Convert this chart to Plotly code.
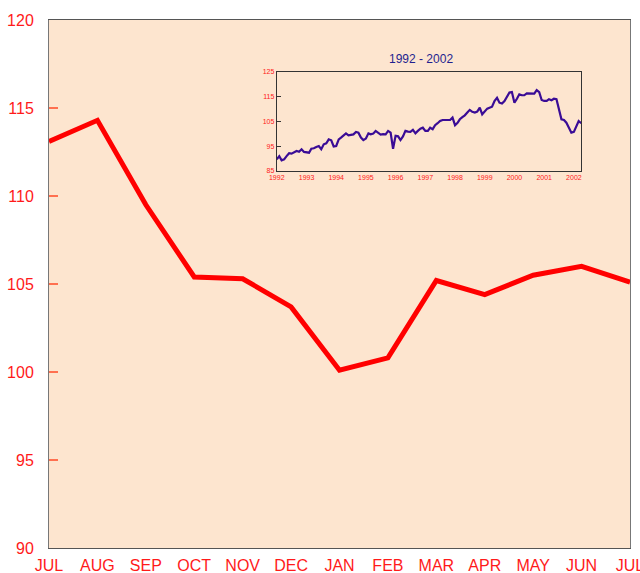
import plotly.graph_objects as go
import pandas as pd

months = ["JUL", "AUG", "SEP", "OCT", "NOV", "DEC", "JAN", "FEB", "MAR", "APR", "MAY", "JUN", "JUL"]
values = [113.1, 114.3, 109.5, 105.4, 105.3, 103.7, 100.1, 100.8, 105.2, 104.4, 105.5, 106.0, 105.1]

inset_values = [
    89.7, 91.0, 89.3, 89.7, 91.0, 92.2, 92.0, 92.7, 93.1, 92.8, 93.8, 92.7,
    92.7, 92.4, 94.0, 94.2, 94.7, 95.1, 93.8, 95.8, 96.2, 97.8, 97.4, 94.9,
    95.1, 97.8, 98.5, 99.2, 100.2, 99.4, 99.6, 99.8, 100.8, 100.5, 98.5, 97.5,
    98.1, 100.2, 99.8, 100.1, 101.2, 100.5, 99.7, 99.9, 99.8, 101.2, 100.5, 94.0,
    99.2, 99.0, 97.5, 99.0, 101.2, 100.9, 100.8, 101.6, 100.2, 101.2, 102.1, 102.5,
    101.2, 101.2, 102.5, 101.9, 103.5, 104.3, 105.2, 105.6, 105.6, 105.9, 105.6, 106.6,
    103.5, 104.5, 105.9, 106.8, 107.5, 108.6, 109.7, 108.9, 108.6, 109.0, 110.6, 107.9,
    108.9, 110.2, 110.6, 111.0, 113.3, 114.6, 112.6, 112.3, 113.3, 115.0, 116.7, 116.9,
    112.6, 114.2, 116.0, 115.6, 115.6, 116.4, 116.3, 116.3, 116.3, 117.7, 116.9, 113.7,
    113.3, 113.3, 114.0, 113.6, 114.2, 114.0, 109.3, 105.9, 105.6, 104.5, 102.5, 100.5,
    100.8, 103.2, 105.2, 104.3,
]
inset_dates = pd.date_range("1992-01-01", periods=len(inset_values), freq="MS")
inset_years = [str(y) for y in range(1992, 2003)]
inset_yticks = [85, 95, 105, 115, 125]
main_yticks = [90, 95, 100, 105, 110, 115, 120]

PEACH = "#fde5cf"
RED = "#ff1a1a"
FONT = "Liberation Sans, Arial, sans-serif"

fig = go.Figure()
fig.add_trace(go.Scatter(
    x=list(range(len(months))), y=values, mode="lines",
    line=dict(color="#ff0000", width=5), xaxis="x", yaxis="y", showlegend=False,
    cliponaxis=False,
))
fig.add_trace(go.Scatter(
    x=inset_dates, y=inset_values, mode="lines",
    line=dict(color="#3a0c96", width=2.2), xaxis="x2", yaxis="y2", showlegend=False,
))

fig.update_layout(
    width=640, height=573,
    margin=dict(l=49, r=10, t=20, b=25),
    paper_bgcolor="white",
    plot_bgcolor=PEACH,
    font=dict(family=FONT),
    xaxis=dict(
        domain=[0, 1], range=[0, 12], automargin=False,
        tickmode="array", tickvals=list(range(len(months))), ticktext=months,
        tickfont=dict(color=RED, size=16), showgrid=False, zeroline=False,
        showline=True, linecolor="#555555", linewidth=1, mirror=True, ticks="",
        ticklabeloverflow="allow", ticklabelstandoff=3,
    ),
    yaxis=dict(
        domain=[0, 1], range=[90, 120], automargin=False,
        tickvals=main_yticks, tickfont=dict(color=RED, size=16),
        showgrid=False, zeroline=False,
        showline=True, linecolor="#777777", linewidth=1, mirror=True,
        ticks="inside", ticklen=9, tickwidth=2, tickcolor="#ff7050",
        ticklabelstandoff=11, ticklabeloverflow="allow",
    ),
    xaxis2=dict(
        domain=[0.392, 0.916], anchor="y2", automargin=False,
        range=[pd.Timestamp("1992-01-01"), pd.Timestamp("2002-04-01")],
        tickmode="array",
        tickvals=[pd.Timestamp(f"{y}-01-01") for y in inset_years], ticktext=inset_years,
        tickfont=dict(color=RED, size=7), showgrid=False, zeroline=False,
        showline=True, linecolor="#333333", linewidth=1, mirror=True, ticks="",
    ),
    yaxis2=dict(
        domain=[0.714, 0.9015], anchor="x2", range=[85, 125], automargin=False,
        tickvals=inset_yticks, tickfont=dict(color=RED, size=7),
        showgrid=False, zeroline=False,
        showline=True, linecolor="#333333", linewidth=1, mirror=True,
        ticks="inside", ticklen=4, tickcolor="#333333",
    ),
    annotations=[dict(
        text="1992 - 2002", xref="paper", yref="paper",
        x=0.641, y=0.9015, yshift=4, xanchor="center", yanchor="bottom",
        showarrow=False, font=dict(color="#1f1f8f", size=12, family=FONT),
    )],
)

fig.write_html(
    "out.html",
    config={"displayModeBar": False},
    post_script="document.body.style.margin='0';document.body.style.overflow='hidden';",
)
